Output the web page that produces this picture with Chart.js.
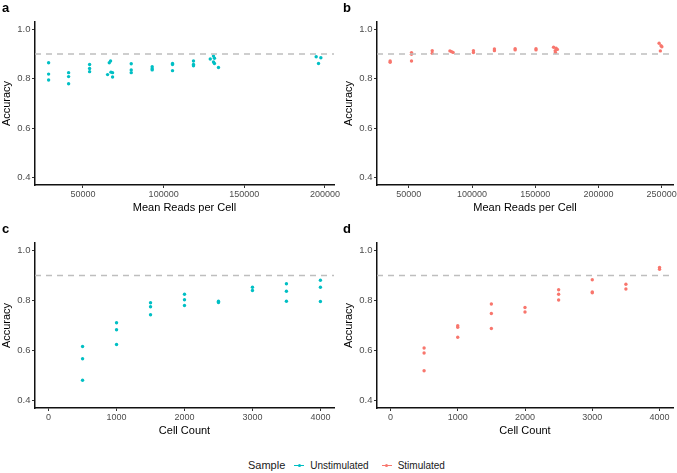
<!DOCTYPE html>
<html>
<head>
<meta charset="utf-8">
<script src="https://cdn.jsdelivr.net/npm/chart.js@4"></script>
<style>
  body { margin: 0; background: #fff; font-family: "Liberation Sans", Arial, sans-serif; }
  #wrap { position: relative; width: 677px; height: 473px; overflow: hidden; }
  canvas { position: absolute; }
  .tag { position: absolute; font-weight: bold; font-size: 13px; color: #000; }
  #legend { position: absolute; top: 457px; left: 248px; height: 16px; display: flex; align-items: center; font-size: 10px; color: #1a1a1a; }
  #legend .ttl { font-size: 11px; margin-right: 8px; }
  #legend .key { position: relative; width: 12px; height: 12px; margin-right: 5px; }
  #legend .key:before { content: ""; position: absolute; left: 1px; right: 1px; top: 5.5px; height: 1px; background: currentColor; }
  #legend .key:after { content: ""; position: absolute; left: 4.5px; top: 4.5px; width: 3px; height: 3px; border-radius: 50%; background: currentColor; }
  #legend .lbl { margin-right: 12px; }
</style>
</head>
<body>
<div id="wrap">
  <canvas id="chartA" width="352" height="222" style="left:0;top:0"></canvas>
  <canvas id="chartB" width="340" height="222" style="left:337px;top:0"></canvas>
  <canvas id="chartC" width="352" height="222" style="left:0;top:220px"></canvas>
  <canvas id="chartD" width="340" height="222" style="left:337px;top:220px"></canvas>
  <div class="tag" style="left:2px;top:0px">a</div>
  <div class="tag" style="left:343px;top:0px">b</div>
  <div class="tag" style="left:2px;top:221px">c</div>
  <div class="tag" style="left:343px;top:221px">d</div>
  <div id="legend">
    <span class="ttl">Sample</span>
    <span class="key" style="color:#00BFC4"></span><span class="lbl">Unstimulated</span>
    <span class="key" style="color:#F8766D"></span><span class="lbl">Stimulated</span>
  </div>
</div>
<script>
  // --- Data ---
  const threshold = 0.9;
  const yTicks = [0.4, 0.6, 0.8, 1.0];
  const readsTicksA = [50000, 100000, 150000, 200000];
  const readsTicksB = [50000, 100000, 150000, 200000, 250000];
  const cellTicks = [0, 1000, 2000, 3000, 4000];

  // a: unstimulated, accuracy vs mean reads per cell
  const readsUnstim = [28700, 28700, 28700, 41100, 41100, 41100, 54100, 54100, 54100,
    66300, 67100, 65240, 67350, 68340, 68340, 79900, 79900, 79900, 92900, 92900, 92900,
    105500, 105500, 105500, 118500, 118500, 118500,
    128900, 130900, 131500, 130900, 131500, 134000, 194550, 197460, 196000];
  const accReadsUnstim = [0.865, 0.819, 0.795, 0.825, 0.809, 0.780, 0.858, 0.842, 0.829,
    0.865, 0.872, 0.817, 0.827, 0.825, 0.807, 0.861, 0.836, 0.825, 0.849, 0.841, 0.836,
    0.862, 0.858, 0.833, 0.872, 0.858, 0.853,
    0.880, 0.892, 0.883, 0.868, 0.862, 0.846, 0.889, 0.885, 0.862];

  // b: stimulated, accuracy vs mean reads per cell
  const readsStim = [35200, 35200, 52100, 52100, 52100, 68500, 68500,
    82500, 83800, 85000, 101100, 101100, 117700, 117700, 134100, 134100, 150600, 150600,
    164500, 166500, 167500, 165800, 166000, 248000, 249500, 250200, 249000];
  const accReadsStim = [0.872, 0.867, 0.906, 0.899, 0.872, 0.914, 0.903,
    0.913, 0.910, 0.907, 0.914, 0.906, 0.921, 0.914, 0.922, 0.917, 0.922, 0.917,
    0.928, 0.924, 0.919, 0.914, 0.906, 0.944, 0.934, 0.930, 0.913];

  // c: unstimulated, accuracy vs cell count
  const cellsUnstim = [500, 500, 500, 1000, 1000, 1000, 1500, 1500, 1500, 2000, 2000, 2000,
    2500, 2500, 3000, 3000, 3500, 3500, 3500, 4000, 4000, 4000];
  const accCellsUnstim = [0.616, 0.567, 0.481, 0.711, 0.683, 0.624, 0.791, 0.775, 0.743,
    0.825, 0.803, 0.780, 0.797, 0.792, 0.853, 0.840, 0.867, 0.837, 0.797, 0.881, 0.853, 0.796];

  // d: stimulated, accuracy vs cell count
  const cellsStim = [500, 500, 500, 1000, 1000, 1000, 1500, 1500, 1500, 2000, 2000,
    2500, 2500, 2500, 3000, 3000, 3000, 3500, 3500, 4000, 4000];
  const accCellsStim = [0.610, 0.590, 0.519, 0.699, 0.693, 0.653, 0.786, 0.748, 0.688,
    0.772, 0.754, 0.843, 0.825, 0.802, 0.883, 0.834, 0.831, 0.865, 0.846, 0.932, 0.925];

  const TEAL = "#00BFC4";
  const RED = "#F8766D";
  const FONT = "'Liberation Sans', Arial, sans-serif";

  // dashed reference line at the threshold
  const hlinePlugin = {
    id: "hline",
    afterDatasetsDraw(chart) {
      const { ctx, chartArea, scales } = chart;
      const y = scales.y.getPixelForValue(threshold);
      ctx.save();
      ctx.strokeStyle = "#BEBEBE";
      ctx.lineWidth = 1.5;
      ctx.setLineDash([6, 5]);
      ctx.beginPath();
      ctx.moveTo(chartArea.left, y);
      ctx.lineTo(chartArea.right, y);
      ctx.stroke();
      ctx.restore();
    },
  };

  function makePanel(id, xs, ys, color, o) {
    const pts = xs.map((x, i) => ({ x: x, y: ys[i] }));
    return new Chart(document.getElementById(id), {
      type: "scatter",
      data: {
        datasets: [{
          data: pts,
          backgroundColor: color,
          borderWidth: 0,
          pointRadius: 1.7,
        }],
      },
      plugins: [hlinePlugin],
      options: {
        responsive: false,
        animation: false,
        events: [],
        layout: { padding: o.pad },
        plugins: { legend: { display: false }, tooltip: { enabled: false } },
        scales: {
          x: {
            type: "linear",
            min: o.xmin,
            max: o.xmax,
            afterBuildTicks: (s) => { s.ticks = o.xticks.map((v) => ({ value: v })); },
            afterFit: (s) => { s.height = 30; s.paddingLeft = 0; s.paddingRight = 0; },
            grid: { display: true, drawOnChartArea: false, tickLength: 3, tickColor: "#333", tickWidth: 1 },
            border: { display: true, color: "#111", width: 1.5 },
            ticks: { padding: 1, color: "#4D4D4D", maxRotation: 0, autoSkip: false,
              font: { family: FONT, size: 9 }, callback: (v) => String(v) },
            title: { display: true, text: o.xtitle, color: "#000", padding: { top: 0, bottom: 0 },
              font: { family: FONT, size: 11 } },
          },
          y: {
            min: 0.37,
            max: 1.03,
            afterBuildTicks: (s) => { s.ticks = yTicks.map((v) => ({ value: v })); },
            afterFit: (s) => { s.width = 35; },
            grid: { display: true, drawOnChartArea: false, tickLength: 3, tickColor: "#333", tickWidth: 1 },
            border: { display: true, color: "#111", width: 1.5 },
            ticks: { padding: 1.5, color: "#4D4D4D", font: { family: FONT, size: 9.5 },
              callback: (v) => v.toFixed(1) },
            title: { display: true, text: "Accuracy", color: "#000", padding: { top: 0, bottom: 0 },
              font: { family: FONT, size: 11 } },
          },
        },
      },
    });
  }

  window.onload = function () {
    makePanel("chartA", readsUnstim, accReadsUnstim, TEAL, {
      xmin: 20260, xmax: 205600, xticks: readsTicksA, xtitle: "Mean Reads per Cell",
      pad: { left: 0, right: 18, top: 22, bottom: 7 },
    });
    makePanel("chartB", readsStim, accReadsStim, RED, {
      xmin: 24800, xmax: 259000, xticks: readsTicksB, xtitle: "Mean Reads per Cell",
      pad: { left: 5, right: 0, top: 22, bottom: 7 },
    });
    makePanel("chartC", cellsUnstim, accCellsUnstim, TEAL, {
      xmin: -200, xmax: 4200, xticks: cellTicks, xtitle: "Cell Count",
      pad: { left: 0, right: 18, top: 23, bottom: 4 },
    });
    makePanel("chartD", cellsStim, accCellsStim, RED, {
      xmin: -200, xmax: 4200, xticks: cellTicks, xtitle: "Cell Count",
      pad: { left: 5, right: 0, top: 23, bottom: 4 },
    });
  };
</script>
</body>
</html>
